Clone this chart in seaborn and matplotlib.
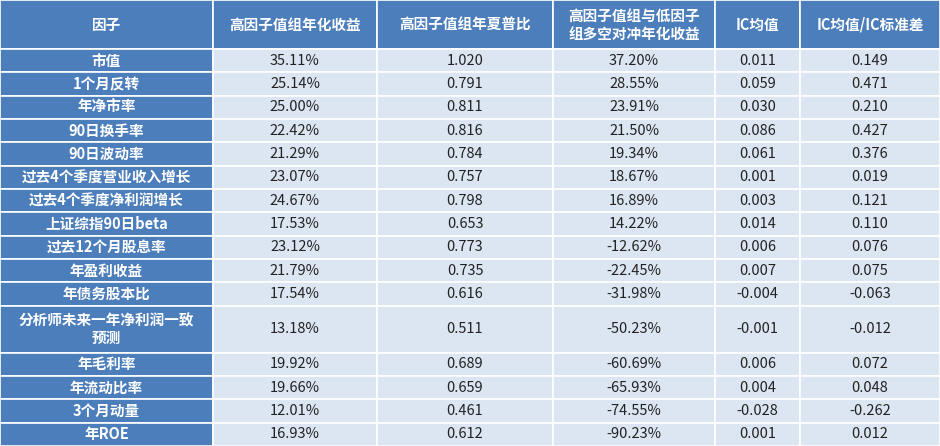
import matplotlib
matplotlib.use("Agg")
import matplotlib.pyplot as plt
import seaborn as sns

sns.set_theme(style="white", font="Noto Sans CJK SC")

headers = ["因子", "高因子值组年化收益", "高因子值组年夏普比", "高因子值组与低因子\n组多空对冲年化收益", "IC均值", "IC均值/IC标准差"]
factors = ["市值", "1个月反转", "年净市率", "90日换手率", "90日波动率", "过去4个季度营业收入增长",
           "过去4个季度净利润增长", "上证综指90日beta", "过去12个月股息率", "年盈利收益", "年债务股本比",
           "分析师未来一年净利润一致\n预测", "年毛利率", "年流动比率", "3个月动量", "年ROE"]
ann_ret = ["35.11%", "25.14%", "25.00%", "22.42%", "21.29%", "23.07%", "24.67%", "17.53%", "23.12%",
           "21.79%", "17.54%", "13.18%", "19.92%", "19.66%", "12.01%", "16.93%"]
sharpe = ["1.020", "0.791", "0.811", "0.816", "0.784", "0.757", "0.798", "0.653", "0.773",
          "0.735", "0.616", "0.511", "0.689", "0.659", "0.461", "0.612"]
ls_ret = ["37.20%", "28.55%", "23.91%", "21.50%", "19.34%", "18.67%", "16.89%", "14.22%", "-12.62%",
          "-22.45%", "-31.98%", "-50.23%", "-60.69%", "-65.93%", "-74.55%", "-90.23%"]
ic_mean = ["0.011", "0.059", "0.030", "0.086", "0.061", "0.001", "0.003", "0.014", "0.006",
           "0.007", "-0.004", "-0.001", "0.006", "0.004", "-0.028", "0.001"]
ic_ir = ["0.149", "0.471", "0.210", "0.427", "0.376", "0.019", "0.121", "0.110", "0.076",
         "0.075", "-0.063", "-0.012", "0.072", "0.048", "-0.262", "0.012"]

col_edges = [0, 213, 377, 553, 715, 800, 940]
W, H = 940, 446
header_h = 49
row_h = [21.6] * 16
row_h[11] = 43.5
scale = (H - header_h) / sum(row_h)
row_h = [h * scale for h in row_h]

blue = "#4C7EBC"
light = "#DCE6F2"

fig = plt.figure(figsize=(9.4, 4.46), dpi=100)
ax = fig.add_axes([0, 0, 1, 1])
ax.set_xlim(0, W)
ax.set_ylim(H, 0)
ax.axis("off")

def cell(x0, x1, y0, y1, color, text, tcolor, bold):
    ax.add_patch(plt.Rectangle((x0, y0), x1 - x0, y1 - y0, facecolor=color,
                               edgecolor="white", linewidth=1.2))
    ax.text((x0 + x1) / 2, (y0 + y1) / 2, text, ha="center", va="center",
            color=tcolor, fontsize=10.5, fontweight="bold" if bold else "normal",
            linespacing=1.15)

for j, h in enumerate(headers):
    cell(col_edges[j], col_edges[j + 1], 0, header_h, blue, h, "white", True)

y = header_h
columns = [factors, ann_ret, sharpe, ls_ret, ic_mean, ic_ir]
for i in range(len(factors)):
    y1 = y + row_h[i]
    for j, col in enumerate(columns):
        if j == 0:
            cell(col_edges[0], col_edges[1], y, y1, blue, col[i], "white", True)
        else:
            cell(col_edges[j], col_edges[j + 1], y, y1, light, col[i], "#222222", False)
    y = y1

fig.savefig("out.png", dpi=100)
